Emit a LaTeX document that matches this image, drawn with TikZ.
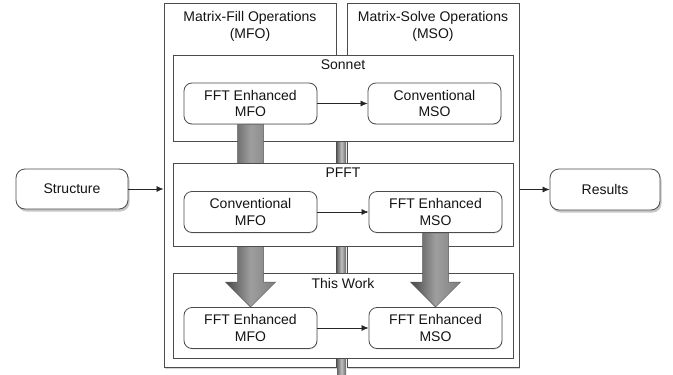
\documentclass[tikz,border=0pt]{standalone}
\usepackage{fontspec}
\setmainfont{Liberation Sans}
\usetikzlibrary{shadows,calc,arrows.meta}
\pgfdeclarelayer{l0}
\pgfdeclarelayer{l1}
\pgfdeclarelayer{l2}
\pgfdeclarelayer{l3}
\pgfdeclarelayer{l4}
\pgfsetlayers{l0,l1,l2,l3,l4,main}
\begin{document}
\begin{tikzpicture}[x=1pt,y=-1pt,
  txt/.style={font=\fontsize{14}{16.5}\selectfont, text=black!92, align=center, inner sep=0pt},
  colbox/.style={draw=black!70, line width=1pt, fill=white, minimum width=172pt, minimum height=364pt, inner sep=0pt,
    drop shadow={shadow xshift=1.2pt, shadow yshift=-1.8pt, opacity=0.35}},
  group/.style={draw=black!70, line width=0.8pt, fill=white, minimum width=340pt, inner sep=0pt},
  op/.style={txt, draw=black!70, line width=0.8pt, fill=white, rounded corners=8pt, minimum width=133pt, minimum height=41pt,
    drop shadow={shadow xshift=0.6pt, shadow yshift=-1pt, opacity=0.2}},
  io/.style={txt, draw=black!70, line width=0.8pt, fill=white, rounded corners=9pt, minimum width=112pt, minimum height=40pt,
    drop shadow={shadow xshift=1.5pt, shadow yshift=-2.5pt, opacity=0.45}},
  link/.style={-{Latex[length=7pt,width=6pt]}, line width=0.7pt, draw=black!85},
  bigarrow/.style={left color=black!72, right color=black!50, middle color=black!38, draw=black!65, line width=0.5pt}
]
\useasboundingbox (0,0) rectangle (673,375);

% columns
\begin{pgfonlayer}{l0}
  \node[colbox] (mfo) at (250,185) {};
  \node[colbox] (mso) at (433,185) {};
  \shade[left color=black!60, right color=black!60, middle color=black!25] (337,120) rectangle (346,375);
\end{pgfonlayer}
\node[txt] (mfot) at (250,26.5) {Matrix-Fill Operations\\(MFO)};
\node[txt] (msot) at (433,26.5) {Matrix-Solve Operations\\(MSO)};

% group boxes
\begin{pgfonlayer}{l1}
  \node[group, minimum height=86pt] (sonnet) at (343,98) {};
  \node[group, minimum height=85pt] (work) at (343,315.5) {};
\end{pgfonlayer}
\begin{pgfonlayer}{l3}
  \node[group, minimum height=83pt] (pfft) at (343,204.5) {};
\end{pgfonlayer}
\node[txt] (sonnetl) at (343,65) {Sonnet};
\node[txt] (pfftl) at (343,172.5) {PFFT};
\node[txt] (workl) at (343,283.5) {This Work};

% operation nodes
\node[op] (s1) at (250.5,103.5) {FFT Enhanced\\MFO};
\node[op] (s2) at (434.5,103.5) {Conventional\\MSO};
\node[op] (p1) at (250.5,212) {Conventional\\MFO};
\node[op] (p2) at (435.5,212) {FFT Enhanced\\MSO};
\node[op] (t1) at (250.5,328) {FFT Enhanced\\MFO};
\node[op] (t2) at (435.5,328) {FFT Enhanced\\MSO};

\draw[link] (s1) -- (s2);
\draw[link] (p1) -- (p2);
\draw[link] (t1) -- (t2);

% big arrows
\begin{pgfonlayer}{l2}
  \shade[bigarrow] ($(s1.south)+(-13,0)$) -- ($(t1.north)+(-13,-25)$) -- ($(t1.north)+(-25,-25)$) -- (t1.north)
    -- ($(t1.north)+(25,-25)$) -- ($(t1.north)+(13,-25)$) -- ($(s1.south)+(13,0)$) -- cycle;
\end{pgfonlayer}
\begin{pgfonlayer}{l4}
  \shade[bigarrow] ($(p2.south)+(-13,0)$) -- ($(t2.north)+(-13,-25)$) -- ($(t2.north)+(-25,-25)$) -- (t2.north)
    -- ($(t2.north)+(25,-25)$) -- ($(t2.north)+(13,-25)$) -- ($(p2.south)+(13,0)$) -- cycle;
\end{pgfonlayer}

% input / output
\node[io] (st) at (72,189) {Structure};
\node[io, minimum width=110pt, minimum height=41pt] (res) at (605,189.5) {Results};
\draw[link] (st) -- (st -| mfo.west);
\draw[link] (res -| mso.east) -- (res);
\end{tikzpicture}
\end{document}
